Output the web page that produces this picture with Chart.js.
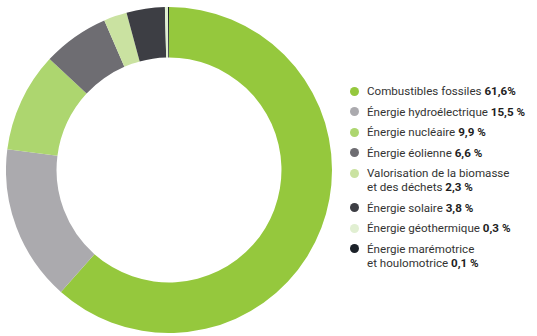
<!DOCTYPE html>
<html>
<head>
<meta charset="utf-8">
<script src="https://cdn.jsdelivr.net/npm/chart.js@4/dist/chart.umd.min.js"></script>
<style>
  body { margin: 0; background: #fff; }
  #wrap { position: relative; width: 537px; height: 336px; overflow: hidden; }
  #donut { position: absolute; left: 6px; top: 7px; width: 326px; height: 326px; }
  #legende { position: absolute; left: 350px; top: 84px; font-family: Roboto, sans-serif; font-size: 11.6px; color: #333; }
  .item { position: relative; padding-left: 17px; line-height: 14px; margin-bottom: 6.5px; white-space: nowrap; }
  .item .pt { position: absolute; left: 0; top: 2.5px; width: 9px; height: 9px; border-radius: 50%; }
  .item b { font-weight: 700; color: #1e1e1e; }
</style>
</head>
<body>
<div id="wrap">
  <div id="donut"><canvas id="graficoEnergie"></canvas></div>
  <div id="legende"></div>
</div>
<script>
// Répartition de la production par source
var sources = ['Combustibles fossiles', 'Énergie hydroélectrique', 'Énergie nucléaire', 'Énergie éolienne',
  'Valorisation de la biomasse\net des déchets', 'Énergie solaire', 'Énergie géothermique',
  'Énergie marémotrice\net houlomotrice'];
var parts = [61.6, 15.5, 9.9, 6.6, 2.3, 3.8, 0.3, 0.1];
var couleurs = ['#95c83d', '#abaaae', '#add66f', '#6e6d72', '#cae2a1', '#3d3e44', '#e1efd2', '#1b2129'];

function formatPart(v, i) {
  var txt = v.toFixed(1).replace('.', ',');
  return i === 0 ? txt + '%' : txt + ' %';
}

// légende en HTML (valeurs en gras)
var legende = document.getElementById('legende');
sources.forEach(function (nom, i) {
  var div = document.createElement('div');
  div.className = 'item';
  var lignes = nom.split('\n');
  var html = '<span class="pt" style="background:' + couleurs[i] + '"></span>';
  html += lignes.join('<br>') + ' <b>' + formatPart(parts[i], i) + '</b>';
  div.innerHTML = html;
  legende.appendChild(div);
});

var ctx = document.getElementById('graficoEnergie').getContext('2d');
var graficoEnergie = new Chart(ctx, {
  type: 'doughnut',
  data: {
    labels: sources,
    datasets: [{
      data: parts,
      backgroundColor: couleurs,
      borderWidth: 0
    }]
  },
  options: {
    responsive: true,
    maintainAspectRatio: false,
    animation: false,
    cutout: '69%',
    layout: { padding: 0 },
    plugins: {
      legend: { display: false },
      tooltip: { enabled: false }
    }
  }
});
</script>
</body>
</html>
